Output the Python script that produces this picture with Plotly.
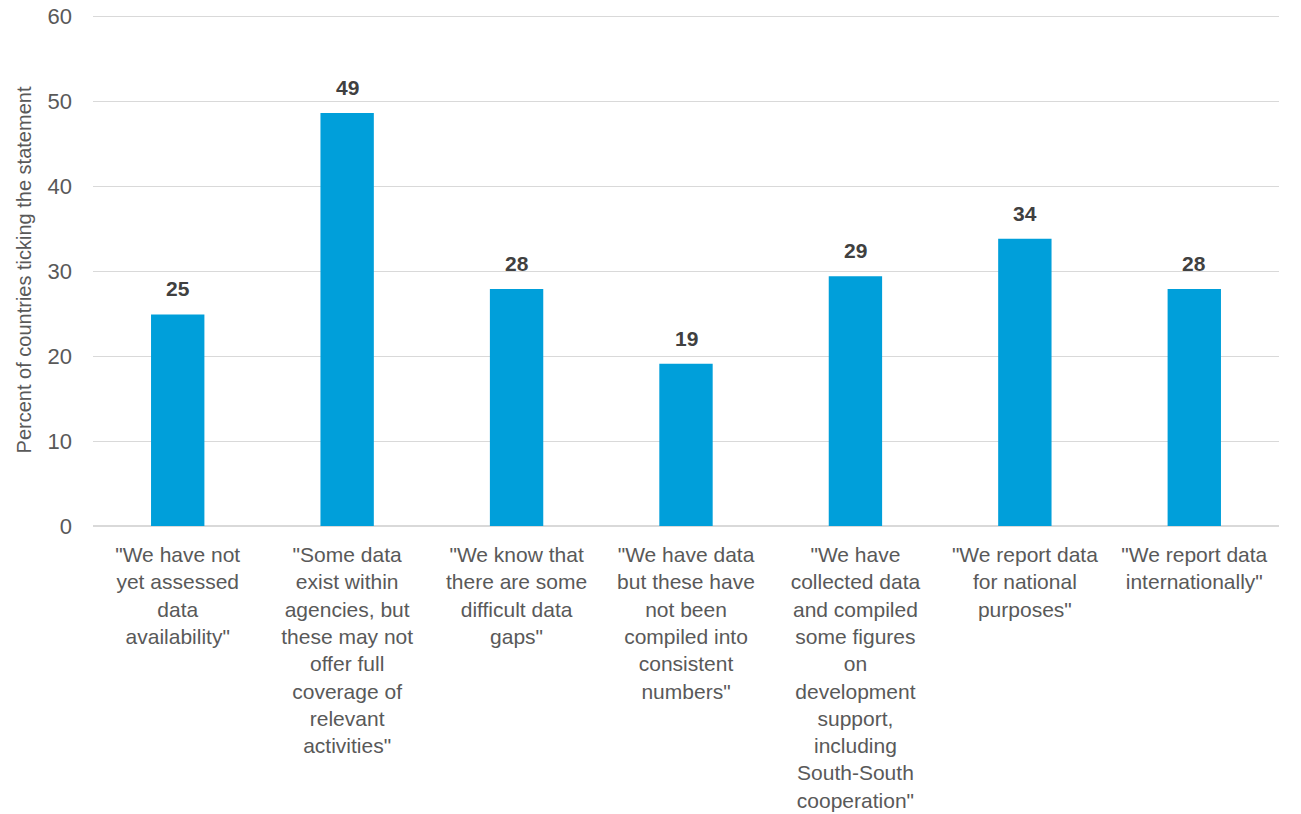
import plotly.graph_objects as go

# Survey statements (category labels, with manual line breaks)
statements = [
    '"We have not<br>yet assessed<br>data<br>availability"',
    '"Some data<br>exist within<br>agencies, but<br>these may not<br>offer full<br>coverage of<br>relevant<br>activities"',
    '"We know that<br>there are some<br>difficult data<br>gaps"',
    '"We have data<br>but these have<br>not been<br>compiled into<br>consistent<br>numbers"',
    '"We have<br>collected data<br>and compiled<br>some figures<br>on<br>development<br>support,<br>including<br>South-South<br>cooperation"',
    '"We report data<br>for national<br>purposes"',
    '"We report data<br>internationally"',
]
# Percent of countries ticking each statement
percent = [24.9, 48.6, 27.9, 19.1, 29.4, 33.8, 27.9]

y_ticks = [0, 10, 20, 30, 40, 50, 60]

font_family = "Liberation Sans, Arial, sans-serif"
text_grey = "#595959"
positions = list(range(len(statements)))

fig = go.Figure(
    go.Bar(
        x=positions,
        y=percent,
        marker=dict(color="#009FDA", line=dict(width=0)),
        width=0.315,
    )
)

# Value labels above each bar, rounded to whole percent
for xi, val in zip(positions, percent):
    fig.add_annotation(
        x=xi,
        y=val,
        xref="x",
        yref="y",
        text=f"<b>{round(val + 1e-9):d}</b>",
        showarrow=False,
        yanchor="bottom",
        yshift=12,
        font=dict(family=font_family, size=21, color="#404040"),
    )

fig.update_layout(
    width=1301,
    height=814,
    margin=dict(l=93, r=22, t=14, b=288),
    plot_bgcolor="white",
    paper_bgcolor="white",
    showlegend=False,
    font=dict(family=font_family, color=text_grey),
    xaxis=dict(
        tickmode="array",
        tickvals=positions,
        ticktext=statements,
        tickfont=dict(size=21, color=text_grey),
        range=[-0.5, len(statements) - 0.5],
        showgrid=False,
        showline=False,
        ticks="",
        ticklen=0,
        zeroline=False,
        automargin=False,
        ticklabelstandoff=14,
    ),
    yaxis=dict(
        range=[0, 60.25],
        tickvals=y_ticks,
        tickfont=dict(size=22, color=text_grey),
        showgrid=True,
        gridcolor="#d9d9d9",
        gridwidth=1,
        zeroline=True,
        zerolinecolor="#d9d9d9",
        zerolinewidth=2,
        ticks="",
        ticklabelstandoff=20,
        automargin=False,
        title=dict(
            text="Percent of countries ticking the statement",
            font=dict(size=20, color=text_grey),
            standoff=10,
        ),
    ),
)

fig.write_html("out.html")
